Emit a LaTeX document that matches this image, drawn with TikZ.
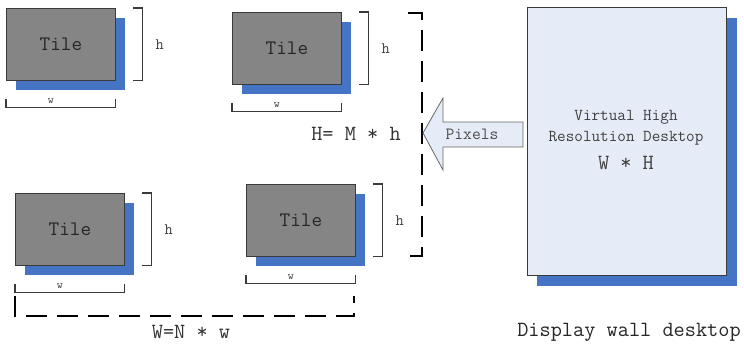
\documentclass[tikz,border=0pt]{standalone}
\usepackage{fontspec}
\definecolor{tilegray}{HTML}{858585}
\definecolor{tileblue}{HTML}{4674C4}
\definecolor{deskfill}{HTML}{E6ECF7}
\definecolor{inkgray}{HTML}{3A3A3A}
% typewriter text at a given size
\newcommand{\mono}[1]{\ttfamily\fontsize{#1}{#1}\selectfont}
\tikzset{
  tile/.style={draw=inkgray, fill=tilegray, line width=0.8pt, minimum width=109pt,
    minimum height=72pt, inner sep=0pt, anchor=north west,
    font=\mono{20.6}, text=black!85},
  tileshadow/.style={fill=tileblue, minimum width=109pt, minimum height=72pt,
    inner sep=0pt, anchor=north west},
  bracket/.style={draw=inkgray, line width=1.1pt},
  dimlabel/.style={text=black!75, inner sep=0pt},
  wallline/.style={line width=2.6pt, dash pattern=on 21pt off 10pt},
}
% one tile with its shadow and its h/w dimension brackets
\newcommand{\drawtile}[3]{%
  \node[tileshadow] (#1s) at (#2+10,#3+10) {};
  \node[tile] (#1) at (#2,#3) {Tile};
  \draw[bracket] ([xshift=17pt]#1.north east) -- ([xshift=27pt]#1.north east)
    -- ([xshift=27pt]#1.south east) -- ([xshift=17pt]#1.south east);
  \node[dimlabel, font=\mono{16}] (#1h) at ([xshift=44pt]#1.east) {h};
  \draw[bracket] ([yshift=-18pt]#1.south west) -- ([yshift=-27pt]#1.south west)
    -- ([yshift=-27pt]#1.south east) -- ([yshift=-18pt]#1.south east);
  \node[dimlabel, font=\mono{11.5}] (#1w) at ([xshift=-10pt,yshift=-20pt]#1.south) {w};
}
\begin{document}
\begin{tikzpicture}[x=1pt, y=-1pt]
  \useasboundingbox (0,0) rectangle (744,348);

  \drawtile{tA}{6}{8}
  \drawtile{tB}{232}{12}
  \drawtile{tC}{15}{193}
  \drawtile{tD}{246}{184}

  % wall height (right) and wall width (bottom)
  \coordinate (hTop) at (408,13);
  \coordinate (hTopR) at (422,13);
  \coordinate (hBotR) at (422,256);
  \coordinate (hBot) at (407,256);
  \draw[wallline] (hTop) -- (hTopR) -- (hBotR) -- (hBot);
  \coordinate (wL) at (15,296);
  \coordinate (wLB) at (15,316);
  \coordinate (wRB) at (354,316);
  \coordinate (wR) at (354,296);
  \draw[wallline] (wL) -- (wLB) -- (wRB) -- (wR);

  \node[font=\mono{21.7}, text=black!80] (Hlab) at (356,134) {H= M * h};
  \node[font=\mono{21.7}, text=black!80] (Wlab) at (191,332) {W=N * w};

  % display wall desktop
  \node[fill=tileblue, minimum width=200pt, minimum height=268pt, inner sep=0pt,
    anchor=north west] (dsh) at (537,18) {};
  \node[draw=inkgray, fill=deskfill, line width=0.8pt, minimum width=199pt,
    minimum height=268pt, inner sep=0pt, anchor=north west] (desk) at (527,7) {};
  \node[text=black!75, font=\mono{16.7}] (deskt1) at (626,117) {Virtual High};
  \node[text=black!75, font=\mono{16.7}] (deskt1b) at (626,138) {Resolution Desktop};
  \node[text=black!75, font=\mono{21.7}] (deskt2) at (626,163) {W * H};
  \node[text=black!85, font=\mono{21.7}] (deskcap) at (629,332) {Display wall desktop};

  % pixel flow arrow
  \draw[fill=deskfill, draw=black!60, line width=0.8pt]
    (423,133) -- (443,98) -- (443,122) -- (523,122) -- (523,147)
    -- (443,147) -- (443,170) -- cycle;
  \node[text=black!70, font=\mono{17.1}] (pix) at (472,134) {Pixels};
\end{tikzpicture}
\end{document}
